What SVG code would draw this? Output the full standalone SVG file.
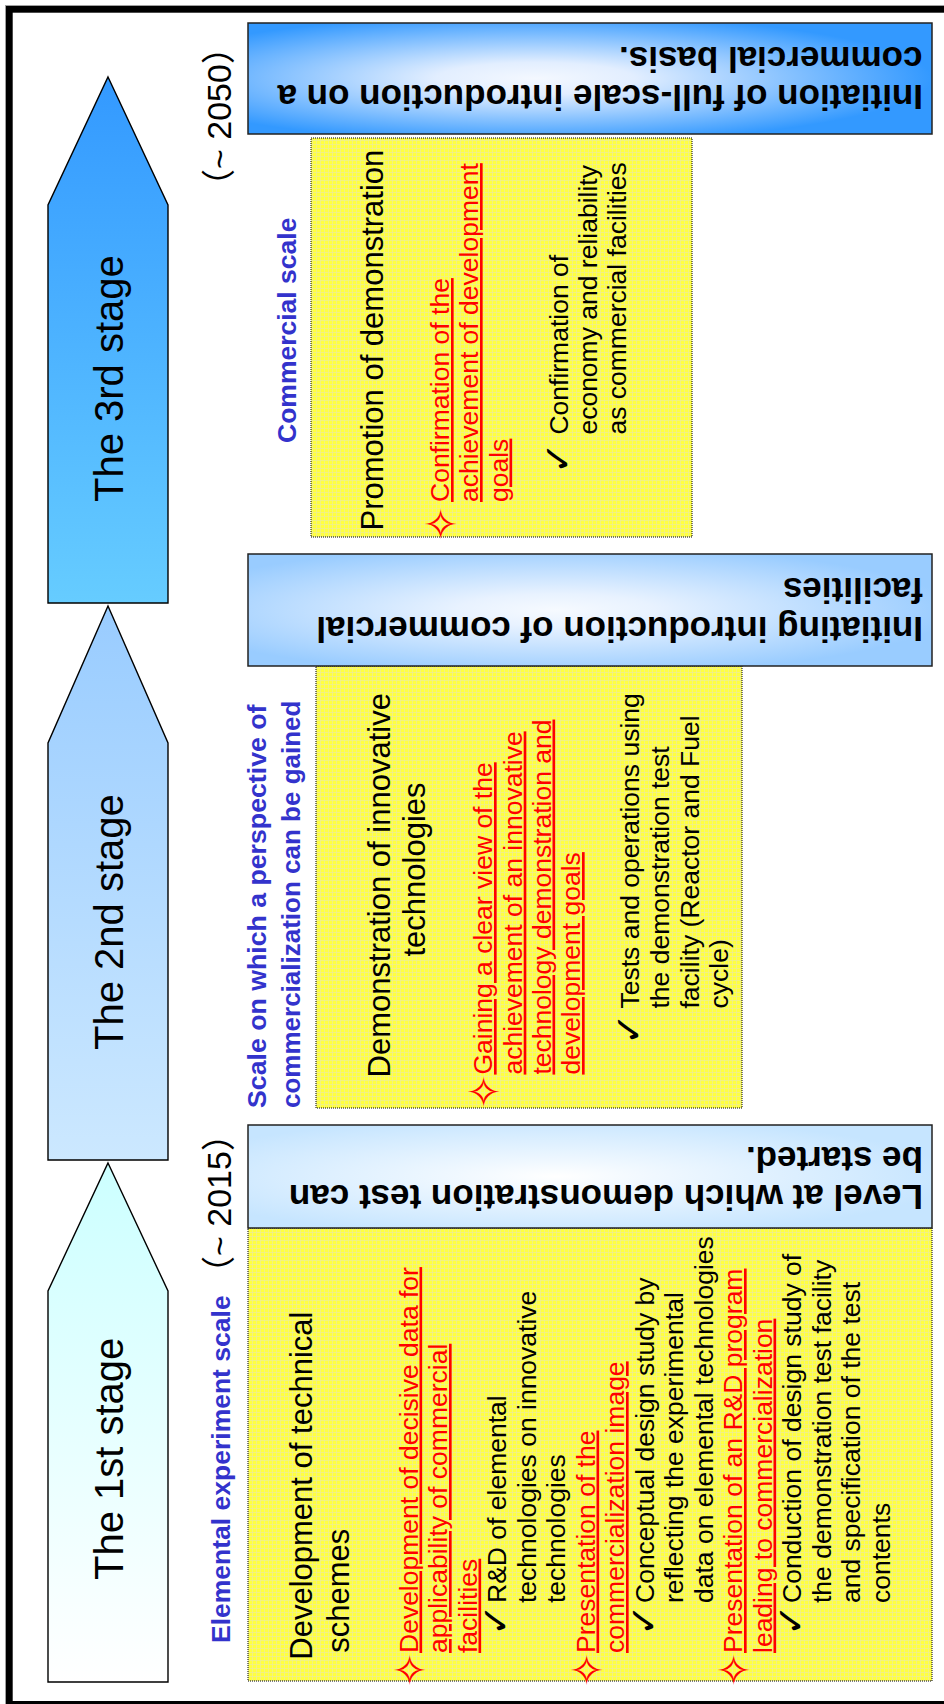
<svg xmlns="http://www.w3.org/2000/svg" width="944" height="1704" viewBox="0 0 944 1704">
<defs>
<linearGradient id="g3" x1="0" y1="0" x2="0" y2="1"><stop offset="0" stop-color="#3399FF"/><stop offset="1" stop-color="#66CCFF"/></linearGradient>
<linearGradient id="g2" x1="0" y1="0" x2="0" y2="1"><stop offset="0" stop-color="#99CCFF"/><stop offset="1" stop-color="#CCE8FF"/></linearGradient>
<linearGradient id="g1" x1="0" y1="0" x2="0" y2="1"><stop offset="0" stop-color="#CCFFFF"/><stop offset="1" stop-color="#FFFFFF"/></linearGradient>
<radialGradient id="b1" cx="0.42" cy="0.5" r="0.58"><stop offset="0" stop-color="#F4F8FF"/><stop offset="0.25" stop-color="#E2EEFF"/><stop offset="1" stop-color="#3399FF"/></radialGradient>
<radialGradient id="b2" cx="0.45" cy="0.5" r="0.58"><stop offset="0" stop-color="#F6FAFF"/><stop offset="0.25" stop-color="#E8F2FF"/><stop offset="1" stop-color="#99CCFF"/></radialGradient>
<radialGradient id="b3" cx="0.45" cy="0.5" r="0.58"><stop offset="0" stop-color="#FFFFFF"/><stop offset="0.25" stop-color="#F0F8FF"/><stop offset="1" stop-color="#C6E5FF"/></radialGradient>
<pattern id="grid" width="4" height="4" patternUnits="userSpaceOnUse"><rect width="4" height="4" fill="#FFFF40"/><path d="M0 0.5H4M0.5 0V4" stroke="#EDED9A" stroke-width="0.7" fill="none"/></pattern>
</defs>
<style>
.frame{fill:none;stroke:#000;stroke-width:6.7}
.halo{fill:none;stroke:#A0A0A0;stroke-width:1}
.arrow{stroke:#000;stroke-width:1.4}
.stage{font-family:"Liberation Sans",Arial,sans-serif;font-size:40px;fill:#000}
.date{font-family:"Liberation Sans","Noto Sans CJK JP",sans-serif;font-size:34px;fill:#000}
.lbl{font-family:"Liberation Sans",Arial,sans-serif;font-weight:bold;fill:#3333CC;font-size:26.5px}
.bbox{stroke:#222;stroke-width:1.5}
.bt{font-family:"Liberation Sans",Arial,sans-serif;font-weight:bold;font-size:35px;fill:#000}
.ybox{fill:url(#grid);stroke:#000;stroke-width:1;stroke-dasharray:1 1}
.hd{font-family:"Liberation Sans",Arial,sans-serif;font-size:31px;fill:#000}
.tx{font-family:"Liberation Sans",Arial,sans-serif;font-size:26.5px;fill:#000}
.red{fill:#FF0000;text-decoration:underline}
.star{font-family:"DejaVu Sans",sans-serif;font-size:42px;fill:#FF0000;text-anchor:middle}
.chk{font-family:"DejaVu Sans",sans-serif;font-size:38px;fill:#000;text-anchor:middle}
</style>
<rect x="9.35" y="9.35" width="1000" height="1695" class="frame"/>
<rect x="5.5" y="5.5" width="1000" height="1705" class="halo"/>

<g id="stage3">
<polygon class="arrow" fill="url(#g3)" points="108,77 168,205 168,603 48,603 48,205"/>
<text class="stage" transform="rotate(-90)" x="-502" y="123">The 3rd stage</text>
</g>
<g id="stage2">
<polygon class="arrow" fill="url(#g2)" points="108,606 168,743 168,1160 48,1160 48,743"/>
<text class="stage" transform="rotate(-90)" x="-1050" y="123">The 2nd stage</text>
</g>
<g id="stage1">
<polygon class="arrow" fill="url(#g1)" points="108,1163 168,1291 168,1682 48,1682 48,1291"/>
<text class="stage" transform="rotate(-90)" x="-1580" y="123">The 1st stage</text>
</g>

<g id="date2050"><text class="date" transform="rotate(-90)" x="-203" y="231">（~ 2050）</text></g>
<g id="date2015"><text class="date" transform="rotate(-90)" x="-1290" y="231">（~ 2015）</text></g>

<g id="label3"><text class="lbl" transform="rotate(-90)" x="-443" y="296">Commercial scale</text></g>
<g id="label2"><text class="lbl" transform="rotate(-90)"><tspan x="-1108" y="266" font-size="26.7">Scale on which a perspective of</tspan><tspan x="-1108" y="300" font-size="26">commercialization can be gained</tspan></text></g>
<g id="label1"><text class="lbl" transform="rotate(-90)" x="-1643" y="230" font-size="25.8">Elemental experiment scale</text></g>

<g id="box3">
<rect class="ybox" x="311" y="138" width="381" height="399"/>
<g transform="rotate(-90)">
<text class="hd" font-size="30" x="-530.5" y="383.3">Promotion of demonstration</text>
<text class="star" x="-524" y="456">✧</text>
<text class="tx red"><tspan x="-502" y="449">Confirmation of the</tspan><tspan x="-502" y="478">achievement of development</tspan><tspan x="-502" y="507.5">goals</tspan></text>
<text class="chk" x="-458" y="571">✓</text>
<text class="tx"><tspan x="-434.6" y="568">Confirmation of</tspan><tspan x="-434.6" y="597">economy and reliability</tspan><tspan x="-434.6" y="626">as commercial facilities</tspan></text>
</g>
</g>

<g id="box2">
<rect class="ybox" x="316" y="666" width="426" height="442"/>
<g transform="rotate(-90)">
<text class="hd"><tspan x="-1077.4" y="390">Demonstration of innovative</tspan><tspan x="-956.5" y="425.3">technologies</tspan></text>
<text class="star" x="-1091.7" y="499">✧</text>
<text class="tx red"><tspan x="-1074.6" y="492">Gaining a clear view of the</tspan><tspan x="-1074.6" y="521.7">achievement of an innovative</tspan><tspan x="-1074.6" y="550.5">technology demonstration and</tspan><tspan x="-1074.6" y="580">development goals</tspan></text>
<text class="chk" x="-1029" y="642">✓</text>
<text class="tx"><tspan x="-1008.5" y="639">Tests and operations using</tspan><tspan x="-1008.5" y="669">the demonstration test</tspan><tspan x="-1008.5" y="698.5">facility (Reactor and Fuel</tspan><tspan x="-1008.5" y="728">cycle)</tspan></text>
</g>
</g>

<g id="box1">
<rect class="ybox" x="248" y="1228" width="684" height="453"/>
<g transform="rotate(-90)">
<text class="hd"><tspan x="-1659.7" y="311.7">Development of technical</tspan><tspan x="-1652.7" y="349.3">schemes</tspan></text>
<text class="star" x="-1670" y="424.5">✧</text>
<text class="tx red"><tspan x="-1653" y="417.5">Development of decisive data for</tspan><tspan x="-1653" y="447">applicability of commercial</tspan><tspan x="-1653" y="476.5">facilities</tspan></text>
<text class="chk" x="-1620" y="509">✓</text>
<text class="tx"><tspan x="-1603" y="506">R&amp;D of elemental</tspan><tspan x="-1603" y="535.5">technologies on innovative</tspan><tspan x="-1603" y="565">technologies</tspan></text>
<text class="star" x="-1670" y="601.5">✧</text>
<text class="tx red"><tspan x="-1653" y="594.5">Presentation of the</tspan><tspan x="-1653" y="624">commercialization image</tspan></text>
<text class="chk" x="-1620" y="656.5">✓</text>
<text class="tx"><tspan x="-1603" y="653.5">Conceptual design study by</tspan><tspan x="-1603" y="683">reflecting the experimental</tspan><tspan x="-1603" y="712.5">data on elemental technologies</tspan></text>
<text class="star" x="-1670" y="749">✧</text>
<text class="tx red"><tspan x="-1653" y="742">Presentation of an R&amp;D program</tspan><tspan x="-1653" y="771.5">leading to commercialization</tspan></text>
<text class="chk" x="-1620" y="804">✓</text>
<text class="tx"><tspan x="-1603" y="801">Conduction of design study of</tspan><tspan x="-1603" y="830.5">the demonstration test facility</tspan><tspan x="-1603" y="860">and specification of the test</tspan><tspan x="-1603" y="889.5">contents</tspan></text>
</g>
</g>

<g id="goal3">
<rect class="bbox" fill="url(#b1)" x="248" y="23" width="684" height="111"/>
<text class="bt" transform="rotate(180)"><tspan x="-923" y="-85">Initiation of full-scale introduction on a</tspan><tspan x="-922.5" y="-47">commercial basis.</tspan></text>
</g>
<g id="goal2">
<rect class="bbox" fill="url(#b2)" x="248" y="554" width="684" height="112"/>
<text class="bt" transform="rotate(180)"><tspan x="-923" y="-617">Initiating introduction of commercial</tspan><tspan x="-923" y="-578">facilities</tspan></text>
</g>
<g id="goal1">
<rect class="bbox" fill="url(#b3)" x="248" y="1125" width="684" height="103"/>
<text class="bt" transform="rotate(180)"><tspan x="-923" y="-1185">Level at which demonstration test can</tspan><tspan x="-923" y="-1147">be started.</tspan></text>
</g>
<g id="connectors"/>
</svg>
